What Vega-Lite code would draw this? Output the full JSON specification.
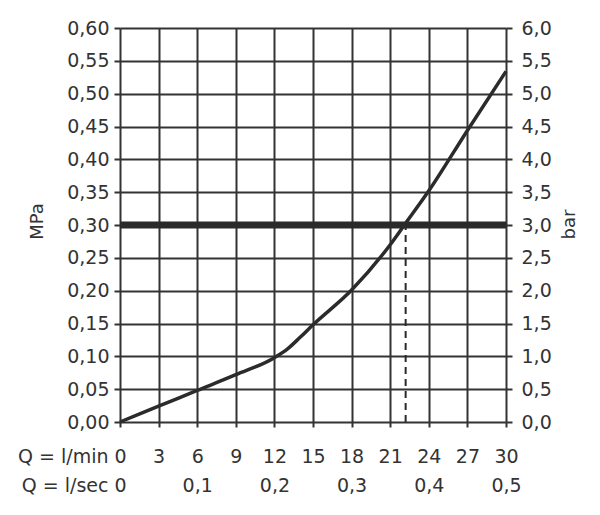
{
  "$schema": "https://vega.github.io/schema/vega-lite/v6.json",
  "width": 386,
  "height": 394,
  "autosize": "none",
  "padding": {"left": 120, "top": 28, "right": 94, "bottom": 93},
  "background": "white",
  "config": {
    "view": {"stroke": null},
    "axis": {
      "labelFont": "DejaVu Sans",
      "labelFontSize": 19,
      "labelColor": "#333333",
      "titleFont": "DejaVu Sans",
      "titleFontSize": 18,
      "titleFontWeight": "normal",
      "titleColor": "#333333",
      "gridColor": "#333333",
      "gridWidth": 2,
      "gridOpacity": 1,
      "tickColor": "#333333",
      "tickWidth": 2,
      "domain": false,
      "labelFlush": false,
      "labelOverlap": false
    }
  },
  "datasets": {
    "curve": [
      {"q": 0, "mpa": 0},
      {"q": 3, "mpa": 0.024},
      {"q": 6, "mpa": 0.048},
      {"q": 9, "mpa": 0.072},
      {"q": 12, "mpa": 0.098},
      {"q": 13, "mpa": 0.111},
      {"q": 14, "mpa": 0.129},
      {"q": 15, "mpa": 0.148},
      {"q": 18, "mpa": 0.201},
      {"q": 21, "mpa": 0.27},
      {"q": 22.1, "mpa": 0.3},
      {"q": 24, "mpa": 0.352},
      {"q": 27, "mpa": 0.444},
      {"q": 30, "mpa": 0.534}
    ],
    "operating": [{"q": 22.2, "from": 0, "to": 0.3, "limit": 0.3}],
    "units": [{"lps": 0, "bar": 0}, {"lps": 0.5, "bar": 6}]
  },
  "layer": [
    {
      "encoding": {
        "x": {
          "field": "q", "type": "quantitative",
          "scale": {"domain": [0, 30], "nice": false, "zero": false},
          "axis": {
            "orient": "bottom",
            "values": [0, 3, 6, 9, 12, 15, 18, 21, 24, 27, 30],
            "grid": true,
            "ticks": true,
            "tickSize": 5,
            "labelBaseline": "middle",
            "labelPadding": 29.5,
            "title": "Q = l/min",
            "titleFontSize": 19,
            "titleX": -12,
            "titleY": 34.5,
            "titleAlign": "right",
            "titleBaseline": "middle",
            "titleAngle": 0
          }
        },
        "y": {
          "field": "mpa", "type": "quantitative",
          "scale": {"domain": [0, 0.6], "nice": false, "zero": false},
          "axis": {
            "orient": "left",
            "values": [0, 0.05, 0.1, 0.15, 0.2, 0.25, 0.3, 0.35, 0.4, 0.45, 0.5, 0.55, 0.6],
            "labelExpr": "replace(format(datum.value, '.2f'), '.', ',')",
            "grid": true,
            "tickSize": 6,
            "labelPadding": 5,
            "title": "MPa",
            "titleAngle": -90,
            "titleX": -83,
            "titleY": 193,
            "titleAlign": "center",
            "titleBaseline": "middle"
          }
        }
      },
      "layer": [
        {
          "data": {"name": "curve"},
          "mark": {"type": "line", "color": "#2b2b2b", "strokeWidth": 3.5, "interpolate": "monotone"}
        },
        {
          "data": {"name": "operating"},
          "mark": {"type": "rule", "color": "#2a2a2a", "strokeWidth": 7},
          "encoding": {
            "x": null,
            "y": {"field": "limit", "type": "quantitative"}
          }
        },
        {
          "data": {"name": "operating"},
          "mark": {"type": "rule", "color": "#2a2a2a", "strokeWidth": 2, "strokeDash": [7, 5]},
          "encoding": {
            "y": {"field": "from", "type": "quantitative"},
            "y2": {"field": "to"}
          }
        }
      ]
    },
    {
      "data": {"name": "units"},
      "mark": {"type": "point", "opacity": 0},
      "encoding": {
        "x": {
          "field": "lps", "type": "quantitative",
          "scale": {"domain": [0, 0.5], "nice": false, "zero": false},
          "axis": {
            "orient": "bottom",
            "values": [0, 0.1, 0.2, 0.3, 0.4, 0.5],
            "labelExpr": "datum.value == 0 ? '0' : replace(format(datum.value, '.1f'), '.', ',')",
            "grid": false,
            "ticks": false,
            "labelBaseline": "middle",
            "labelPadding": 63,
            "title": "Q = l/sec",
            "titleFontSize": 19,
            "titleX": -12,
            "titleY": 63,
            "titleAlign": "right",
            "titleBaseline": "middle",
            "titleAngle": 0
          }
        },
        "y": {
          "field": "bar", "type": "quantitative",
          "scale": {"domain": [0, 6], "nice": false, "zero": false},
          "axis": {
            "orient": "right",
            "values": [0, 0.5, 1, 1.5, 2, 2.5, 3, 3.5, 4, 4.5, 5, 5.5, 6],
            "labelExpr": "replace(format(datum.value, '.1f'), '.', ',')",
            "grid": false,
            "tickSize": 6,
            "labelPadding": 9,
            "title": "bar",
            "titleAngle": -90,
            "titleX": 63,
            "titleY": 196,
            "titleAlign": "center",
            "titleBaseline": "middle"
          }
        }
      }
    }
  ],
  "resolve": {"scale": {"x": "independent", "y": "independent"}}
}
